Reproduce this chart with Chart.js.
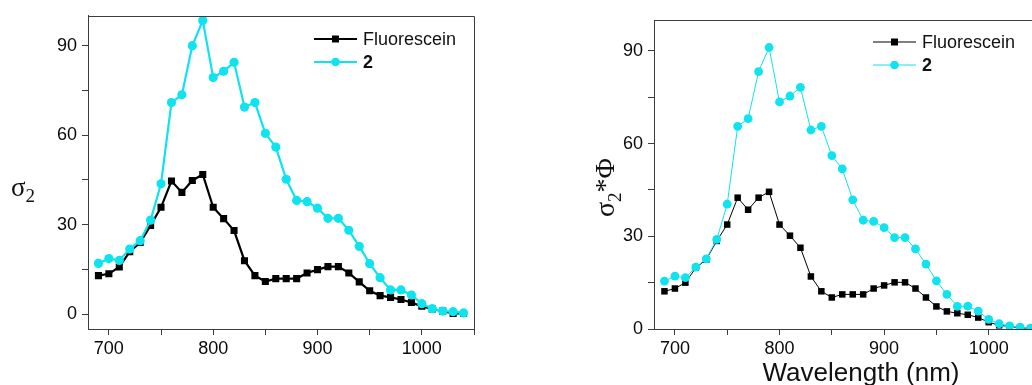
<!DOCTYPE html>
<html>
<head>
<meta charset="utf-8">
<script src="https://cdn.jsdelivr.net/npm/chart.js@4"></script>
<style>
html, body { margin: 0; padding: 0; background: #fff; overflow: hidden; width: 1032px; height: 385px; }
canvas { position: absolute; top: 0; }
#left { left: 0; }
#right { left: 560px; }
</style>
</head>
<body>
<canvas id="left" width="500" height="385"></canvas>
<canvas id="right" width="520" height="385"></canvas>
<script>
// wavelength in nm
var wavelengths = [690, 700, 710, 720, 730, 740, 750, 760, 770, 780, 790, 800, 810, 820, 830, 840, 850, 860,
  870, 880, 890, 900, 910, 920, 930, 940, 950, 960, 970, 980, 990, 1000, 1010, 1020, 1030, 1040];

// left panel: sigma2
var fluoresceinSigma = [12.9, 13.5, 15.8, 20.9, 24, 29.7, 35.8, 44.6, 40.8, 44.8, 46.8, 35.8, 32, 28, 17.9, 12.9,
  10.9, 11.9, 11.9, 11.9, 13.8, 14.9, 15.9, 15.9, 13.8, 10.8, 7.8, 6.2, 5.6, 4.9, 3.9, 2.6, 1.7, 1, 0.2, 0.2];
var compoundSigma = [17, 18.6, 18, 21.8, 24.6, 31.5, 43.7, 70.9, 73.5, 90, 98.4, 79.3, 81.4, 84.4, 69.4, 70.9,
  60.6, 56, 45.2, 38.1, 37.7, 35.5, 32.1, 32.1, 28.1, 22.7, 16.9, 12.2, 8.1, 8.1, 6.4, 3.5, 1.8, 1, 0.8, 0.4];

// right panel: sigma2 * quantum yield
var fluoresceinAction = [12.2, 13.1, 15, 19.8, 22.5, 28.5, 33.8, 42.5, 38.6, 42.5, 44.4, 33.8, 30.2, 26.3, 17, 12.2,
  10.2, 11.2, 11.2, 11.2, 13.1, 14.1, 15.1, 15.1, 13.1, 10.2, 7.3, 5.7, 5.1, 4.6, 3.7, 2.2, 1.2, 0.8, 0.4, 0.2];
var compoundAction = [15.5, 17.1, 16.6, 20, 22.7, 29, 40.4, 65.6, 68.1, 83.3, 91.1, 73.5, 75.4, 78.2, 64.4, 65.6,
  56.1, 51.8, 41.8, 35.2, 34.8, 32.8, 29.6, 29.6, 25.9, 21, 15.6, 11.2, 7.3, 7.4, 5.8, 3.1, 1.7, 1, 0.6, 0.3];

var seriesNames = ['Fluorescein', '2'];
var xTicks = [700, 750, 800, 850, 900, 950, 1000, 1050];
var xTickLabels = [700, 800, 900, 1000];
var yTicks = [0, 15, 30, 45, 60, 75, 90];
var yTickLabels = [0, 30, 60, 90];

var BLACK = '#000000';
var CYAN = '#0fe3ef';
var AXIS = '#3c3c3c';
var SANS = '"Liberation Sans", Arial, sans-serif';
var SERIF = '"Liberation Serif", "Times New Roman", serif';

function points(ys) {
  return ys.map(function (y, i) { return { x: wavelengths[i], y: y }; });
}

// box round the plot + legend + axis titles
var extras = {
  id: 'extras',
  afterDraw: function (chart) {
    var o = chart.options.plugins.extras;
    var ctx = chart.ctx, a = chart.chartArea;
    ctx.save();
    ctx.strokeStyle = AXIS;
    ctx.lineWidth = 1;
    ctx.beginPath();
    ctx.moveTo(Math.round(a.left) + 0.5, Math.round(a.top) + 0.5);
    ctx.lineTo(Math.round(a.right) + 0.5, Math.round(a.top) + 0.5);
    ctx.lineTo(Math.round(a.right) + 0.5, Math.round(a.bottom) + 0.5);
    ctx.stroke();

    // legend
    chart.data.datasets.forEach(function (ds, i) {
      var y = o.legend.y[i];
      ctx.strokeStyle = ds.borderColor;
      ctx.lineWidth = ds.borderWidth;
      ctx.beginPath();
      ctx.moveTo(o.legend.x, y);
      ctx.lineTo(o.legend.x + 43, y);
      ctx.stroke();
      ctx.fillStyle = ds.pointBackgroundColor;
      ctx.beginPath();
      if (ds.pointStyle === 'rect') {
        ctx.rect(o.legend.x + 21.5 - 3.5, y - 3.5, 7, 7);
      } else {
        ctx.arc(o.legend.x + 21.5, y, 4.3, 0, Math.PI * 2);
      }
      ctx.fill();
      ctx.fillStyle = '#111';
      ctx.textBaseline = 'middle';
      ctx.textAlign = 'left';
      ctx.font = (i === 1 ? 'bold ' : '') + '18px ' + SANS;
      ctx.fillText(ds.label, o.legend.x + 49, y + 1);
    });

    // y title
    ctx.fillStyle = '#111';
    ctx.textBaseline = 'alphabetic';
    ctx.textAlign = 'left';
    var t = o.yTitle;
    ctx.translate(t.x, t.y);
    if (t.rotate) ctx.rotate(-Math.PI / 2);
    var u = 0;
    t.parts.forEach(function (p) {
      ctx.font = p.size + 'px ' + SERIF;
      ctx.fillText(p.text, u, p.dy || 0);
      u += ctx.measureText(p.text).width;
    });
    ctx.setTransform(1, 0, 0, 1, 0, 0);

    if (o.xTitle) {
      ctx.font = '26px ' + SANS;
      ctx.textAlign = 'center';
      ctx.fillText(o.xTitle.text, o.xTitle.x, o.xTitle.y);
    }
    ctx.restore();
  }
};

function makeChart(id, yBlack, yCyan, s) {
  return new Chart(document.getElementById(id), {
    type: 'line',
    data: {
      datasets: [{
        label: seriesNames[0],
        data: points(yBlack),
        borderColor: BLACK,
        borderWidth: s.lineWidth,
        pointStyle: 'rect',
        pointRadius: s.rectRadius,
        pointBackgroundColor: BLACK,
        pointBorderColor: BLACK,
        pointBorderWidth: 0,
        order: 1
      }, {
        label: seriesNames[1],
        data: points(yCyan),
        borderColor: CYAN,
        borderWidth: s.lineWidth,
        pointStyle: 'circle',
        pointRadius: s.circleRadius,
        pointBackgroundColor: CYAN,
        pointBorderColor: CYAN,
        pointBorderWidth: 0,
        order: 0
      }]
    },
    options: {
      responsive: false,
      animation: false,
      events: [],
      layout: { padding: s.padding },
      plugins: {
        legend: { display: false },
        tooltip: { enabled: false },
        extras: s.extras
      },
      scales: {
        x: {
          type: 'linear',
          min: 680,
          max: 1050,
          afterBuildTicks: function (scale) {
            scale.ticks = xTicks.map(function (v) { return { value: v }; });
          },
          afterFit: function (scale) { scale.height = 56; },
          grid: { drawOnChartArea: false, tickLength: 6, tickColor: AXIS },
          border: { color: AXIS },
          ticks: {
            autoSkip: false,
            maxRotation: 0,
            padding: 3,
            color: '#0a0a0a',
            font: { family: SANS, size: 18 },
            callback: function (v) { return xTickLabels.indexOf(v) >= 0 ? String(v) : ''; }
          }
        },
        y: {
          type: 'linear',
          min: s.yMin,
          max: 100,
          afterBuildTicks: function (scale) {
            scale.ticks = yTicks.map(function (v) { return { value: v }; });
          },
          afterFit: function (scale) { scale.width = s.yWidth; },
          grid: { drawOnChartArea: false, tickLength: 6, tickColor: AXIS },
          border: { color: AXIS },
          ticks: {
            autoSkip: false,
            padding: 5,
            color: '#0a0a0a',
            font: { family: SANS, size: 18 },
            callback: function (v) { return yTickLabels.indexOf(v) >= 0 ? String(v) : ''; }
          }
        }
      }
    },
    plugins: [extras]
  });
}

makeChart('left', fluoresceinSigma, compoundSigma, {
  lineWidth: 2.2, rectRadius: 5, circleRadius: 4.6, yMin: -5, yWidth: 88,
  padding: { top: 15, right: 26, left: 0, bottom: 0 },
  extras: {
    legend: { x: 314, y: [39, 62] },
    yTitle: { x: 11, y: 196, rotate: false, parts: [{ text: 'σ', size: 27 }, { text: '2', size: 19, dy: 6 }] }
  }
});

makeChart('right', fluoresceinAction, compoundAction, {
  lineWidth: 1, rectRadius: 4.6, circleRadius: 4.4, yMin: 0, yWidth: 94,
  padding: { top: 20, right: 39, left: 0, bottom: 0 },
  extras: {
    legend: { x: 313, y: [42, 65] },
    yTitle: { x: 54, y: 217, rotate: true, parts: [{ text: 'σ', size: 28 }, { text: '2', size: 19, dy: 7 }, { text: '*Φ', size: 28 }] },
    xTitle: { text: 'Wavelength (nm)', x: 301, y: 381 }
  }
});
</script>
</body>
</html>
